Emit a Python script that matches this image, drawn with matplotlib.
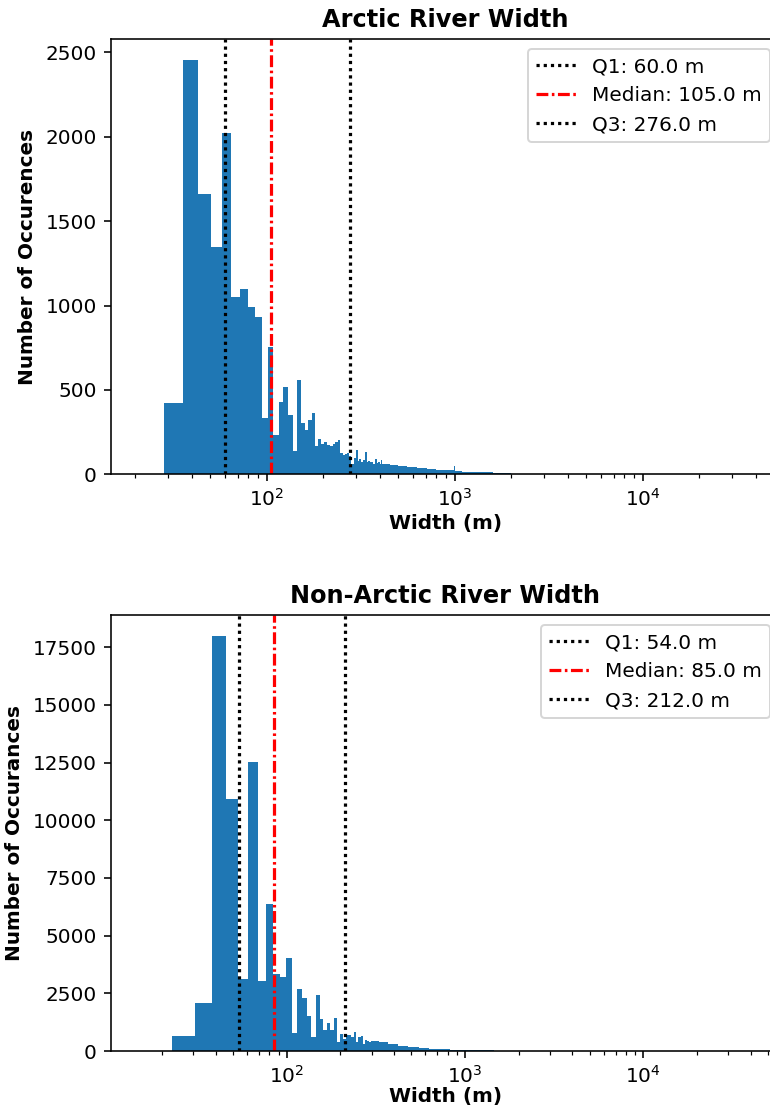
import numpy as np
import matplotlib
matplotlib.use("Agg")
import matplotlib.pyplot as plt

# ---- Arctic rivers: histogram counts (linear bins, log axis) ----
arctic_bin_start = 28.6
arctic_bin_width = 7.25
arctic_counts = [
    425, 2455, 1660, 1345, 2020, 1053, 1099, 994, 930, 332,
    757, 230, 429, 520, 350, 140, 560, 302, 263, 322,
    362, 170, 210, 180, 194, 174, 170, 180, 190, 204,
    125, 115, 120, 125, 110, 60, 95, 144, 80, 90,
    70, 85, 134, 75, 80, 70, 75, 60, 90, 65,
    70, 60, 85, 55,
]
# coarser tail beyond the individually drawn bins (height per 7.25 m bin)
arctic_tail_edges = [412.85, 450, 500, 560, 630, 710, 800, 900, 996, 1004,
                     1100, 1250, 1400, 1600, 1800, 2000, 2300, 2700, 3200]
arctic_tail_counts = [62, 55, 48, 40, 36, 32, 27, 23, 51, 19,
                      15, 13, 11, 8, 6, 4, 2.5, 1]
arctic_q1, arctic_median, arctic_q3 = 60.0, 105.0, 276.0

# ---- Non-Arctic rivers ----
nonarctic_bin_start = 22.8
nonarctic_bin_width = 7.65
nonarctic_counts = [
    636, 2082, 17990, 10930, 3120, 12508, 3030, 6380, 3326, 3220,
    4034, 800, 2704, 2314, 1504, 607, 2444, 1374, 897, 1229,
    925, 1446, 390, 752, 535, 680, 709, 607, 824, 390,
    607, 636, 318, 490, 420, 380,
]
nonarctic_tail_edges = [298.2, 330, 370, 420, 480, 550, 630, 720, 820, 920,
                        996, 1004, 1100, 1250, 1450, 1700, 2000, 2500, 3000]
nonarctic_tail_counts = [450, 380, 290, 230, 180, 130, 100, 75, 62, 55,
                         174, 48, 38, 28, 18, 11, 6, 3]
nonarctic_q1, nonarctic_median, nonarctic_q3 = 54.0, 85.0, 212.0

BAR_COLOR = "#1f77b4"
DOTTED = (0, (1.0, 1.25))
DASHDOT = (0, (3.7, 1.1, 0.8, 1.1))


def draw_hist(ax, start, width, counts, tail_edges, tail_counts):
    counts = np.asarray(counts, dtype=float)
    lefts = start + width * np.arange(len(counts))
    ax.bar(lefts, counts, width=width, align="edge", color=BAR_COLOR,
           linewidth=0)
    tail_edges = np.asarray(tail_edges, dtype=float)
    ax.bar(tail_edges[:-1], tail_counts, width=np.diff(tail_edges),
           align="edge", color=BAR_COLOR, linewidth=0)


def draw_quartiles(ax, q1, med, q3):
    ax.axvline(q1, color="black", linestyle=DOTTED, linewidth=1.6,
               label=f"Q1: {q1:.1f} m")
    ax.axvline(med, color="red", linestyle=DASHDOT, linewidth=1.6,
               label=f"Median: {med:.1f} m")
    ax.axvline(q3, color="black", linestyle=DOTTED, linewidth=1.6,
               label=f"Q3: {q3:.1f} m")
    ax.legend(loc="upper right")


fig = plt.figure(figsize=(770 / 144, 1113 / 144), dpi=144)

ax1 = fig.add_axes([110.7 / 770, 0.5739, (780 - 110.7) / 770, 0.3908])
draw_hist(ax1, arctic_bin_start, arctic_bin_width, arctic_counts,
          arctic_tail_edges, arctic_tail_counts)
draw_quartiles(ax1, arctic_q1, arctic_median, arctic_q3)
ax1.set_xscale("log")
ax1.set_xlim(14.8, 53740)
ax1.set_title("Arctic River Width", fontweight="bold", fontsize=12)
ax1.set_xlabel("Width (m)", fontweight="bold", labelpad=2)
ax1.set_ylabel("Number of Occurences", fontweight="bold")

ax2 = fig.add_axes([110.7 / 770, 0.0557, (780 - 110.7) / 770, 0.3917])
draw_hist(ax2, nonarctic_bin_start, nonarctic_bin_width, nonarctic_counts,
          nonarctic_tail_edges, nonarctic_tail_counts)
draw_quartiles(ax2, nonarctic_q1, nonarctic_median, nonarctic_q3)
ax2.set_xscale("log")
ax2.set_xlim(10.3, 58440)
ax2.set_title("Non-Arctic River Width", fontweight="bold", fontsize=12)
ax2.set_xlabel("Width (m)", fontweight="bold", labelpad=0)
ax2.set_ylabel("Number of Occurances", fontweight="bold")

fig.savefig("out.png", dpi=144)
